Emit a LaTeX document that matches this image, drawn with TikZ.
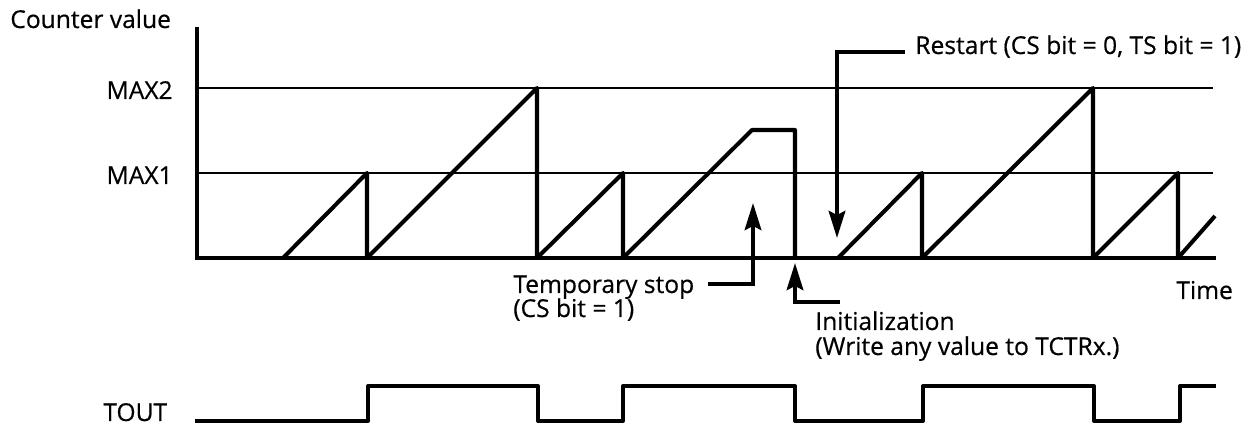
\documentclass[tikz,border=0pt]{standalone}
\usepackage{fontspec}
\setmainfont{Open Sans}[UprightFeatures={FakeBold=0.5}]
\usetikzlibrary{positioning,arrows.meta,calc}

\begin{document}
\begin{tikzpicture}[
    x=0.02cm, y=-0.02cm,
    lbl/.style={inner sep=0pt, font=\fontsize{14pt}{14.2pt}\selectfont},
    axis/.style={line width=2.3pt},
    level/.style={line width=1.1pt},
    wave/.style={line width=2.3pt, line join=round},
    arr/.style={line width=2.3pt, -{Stealth[length=0.54cm, width=0.33cm, inset=0.08cm]}},
  ]
  \useasboundingbox (0,0) rectangle (1252,425);

  \node[lbl, anchor=base west] (ylabel) at (10,28) {Counter value};
  \node[lbl, anchor=base east] (max2) at (173,99) {MAX2};
  \node[lbl, anchor=base east] (max1) at (173,184) {MAX1};
  \node[lbl, anchor=base west] (xlabel) at (1176,299) {Time};
  \node[lbl, anchor=base west] (tout) at (103,421) {TOUT};

  \coordinate (origin) at (197,258);
  \coordinate (ytop) at (197,27);
  \coordinate (xend) at (1216,258);

  \draw[level] (199,88) -- (1213,88);
  \draw[level] (199,173) -- (1213,173);
  \draw[axis] (ytop) -- (197,260);
  \draw[axis] (195,258) -- (xend);

  \draw[wave] (283,258) -- (367,173) -- (367,258) -- (537,88) -- (537,258)
    -- (623,173) -- (623,258) -- (752,130) -- (795,130) -- (795,258);
  \draw[wave] (838,258) -- (922,173) -- (922,258) -- (1093,88) -- (1093,258)
    -- (1178,173) -- (1178,258) -- (1215,216);

  \draw[wave] (195,421) -- (368,421) -- (368,386) -- (538,386) -- (538,421)
    -- (623,421) -- (623,386) -- (795,386) -- (795,421) -- (923,421)
    -- (923,386) -- (1094,386) -- (1094,421) -- (1180,421) -- (1180,386)
    -- (1216,386);

  \node[lbl, anchor=base west] (tstop) at (513,293) {Temporary stop};
  \node[lbl, anchor=base west] (tsnote) at (513,317) {(CS bit = 1)};
  \coordinate (tstip) at (753,203);
  \draw[arr] ([shift={(13,-3)}]tstop.east) -| (tstip);

  \node[lbl, anchor=base west] (init) at (815,330) {Initialization};
  \node[lbl, anchor=base west] (initnote) at (815,355) {(Write any value to TCTRx.)};
  \coordinate (initfoot) at (840,302);
  \coordinate (inittip) at (795,263);
  \draw[arr] (initfoot) -| (inittip);

  \node[lbl, anchor=base west] (restart) at (915,54) {Restart (CS bit = 0, TS bit = 1)};
  \coordinate (rstip) at (837,238);
  \draw[arr] ([shift={(-10,5)}]restart.west) -| (rstip);
\end{tikzpicture}
\end{document}
